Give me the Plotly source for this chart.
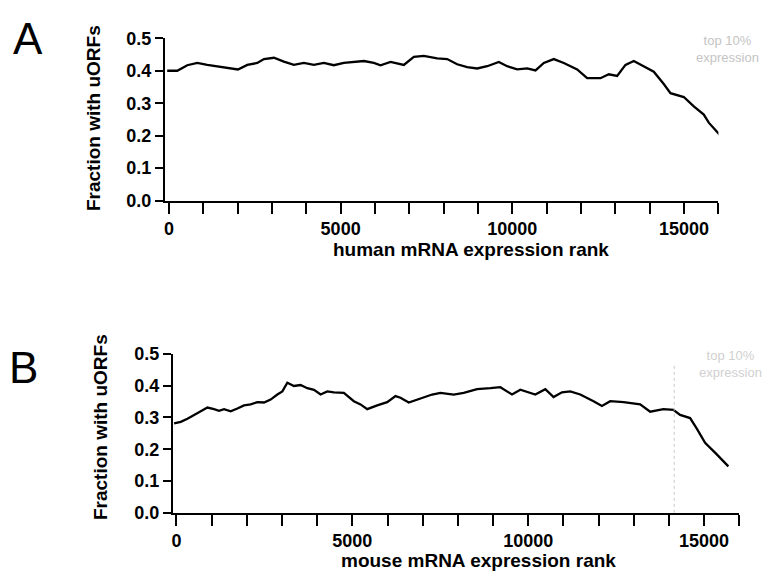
import plotly.graph_objects as go

# ---- data ----
human_rank = [-50, 243, 535, 826, 1117, 1409, 1700, 2010, 2283, 2574, 2767, 3058, 3348, 3639, 3930,
              4221, 4512, 4803, 5094, 5386, 5677, 5968, 6162, 6453, 6841, 7132, 7423, 7812, 8103,
              8394, 8685, 8976, 9268, 9607, 9850, 10141, 10432, 10675, 10917, 11208, 11499, 11888,
              12179, 12567, 12809, 13052, 13295, 13537, 13828, 14119, 14410, 14605, 14993, 15284,
              15575, 15720, 16060]
human_frac = [0.400, 0.400, 0.417, 0.424, 0.418, 0.414, 0.409, 0.404, 0.418, 0.424, 0.436, 0.440,
              0.428, 0.418, 0.424, 0.418, 0.424, 0.417, 0.424, 0.428, 0.430, 0.424, 0.417, 0.427,
              0.418, 0.443, 0.446, 0.438, 0.436, 0.420, 0.411, 0.407, 0.414, 0.427, 0.414, 0.404,
              0.407, 0.401, 0.424, 0.436, 0.424, 0.404, 0.377, 0.377, 0.389, 0.384, 0.418, 0.430,
              0.414, 0.397, 0.359, 0.331, 0.319, 0.290, 0.265, 0.240, 0.200]

mouse_rank = [-68, 122, 312, 500, 690, 880, 1068, 1210, 1352, 1542, 1732, 1920, 2110, 2300, 2487,
              2677, 2868, 3010, 3152, 3339, 3529, 3720, 3910, 4097, 4287, 4475, 4759, 5043, 5233,
              5423, 5707, 5991, 6227, 6369, 6604, 6888, 7268, 7504, 7882, 8166, 8546, 8924, 9208,
              9540, 9776, 10202, 10486, 10721, 10960, 11195, 11480, 11857, 12096, 12331, 12711,
              13183, 13467, 13844, 14128, 14319, 14603, 14793, 15029, 15361, 15690]
mouse_frac = [0.281, 0.286, 0.296, 0.308, 0.321, 0.331, 0.326, 0.321, 0.326, 0.319, 0.328, 0.338,
              0.341, 0.348, 0.347, 0.356, 0.372, 0.382, 0.409, 0.399, 0.402, 0.392, 0.387, 0.372,
              0.382, 0.379, 0.377, 0.351, 0.341, 0.326, 0.338, 0.348, 0.367, 0.362, 0.347, 0.358,
              0.372, 0.377, 0.372, 0.377, 0.389, 0.392, 0.395, 0.372, 0.387, 0.372, 0.389, 0.364,
              0.379, 0.382, 0.372, 0.351, 0.336, 0.351, 0.348, 0.341, 0.318, 0.326, 0.324, 0.308,
              0.298, 0.265, 0.220, 0.184, 0.146]

x_tickvals = list(range(0, 16001, 1000))
x_ticktext = [str(v) if v % 5000 == 0 else "" for v in x_tickvals]
y_tickvals = [0.0, 0.1, 0.2, 0.3, 0.4, 0.5]
y_ticktext = ["0.0", "0.1", "0.2", "0.3", "0.4", "0.5"]
mouse_top10_cut = 14150

W, H = 779, 584
FONT = "Liberation Sans"

fig = go.Figure()
fig.add_trace(go.Scatter(x=human_rank, y=human_frac, mode="lines",
                         line=dict(color="black", width=2.3), xaxis="x", yaxis="y",
                         showlegend=False))
fig.add_trace(go.Scatter(x=mouse_rank, y=mouse_frac, mode="lines",
                         line=dict(color="black", width=2.3), xaxis="x2", yaxis="y2",
                         showlegend=False))

def px_x(p):
    return p / W

def px_y(p):
    return 1 - p / H

common_x = dict(showline=True, linecolor="black", linewidth=2, ticks="outside", ticklen=11,
                tickwidth=2, tickcolor="black", showgrid=False, zeroline=False,
                tickvals=x_tickvals, ticktext=x_ticktext,
                tickfont=dict(family=FONT, size=18, color="black", weight="bold"))
common_y = dict(showline=True, linecolor="black", linewidth=2, ticks="outside", ticklen=8,
                tickwidth=2, tickcolor="black", showgrid=False, zeroline=False,
                tickvals=y_tickvals, ticktext=y_ticktext, range=[0, 0.5],
                tickfont=dict(family=FONT, size=18, color="black", weight="bold"))

fig.update_layout(
    width=W, height=H, margin=dict(l=0, r=0, t=0, b=0),
    paper_bgcolor="white", plot_bgcolor="white",
    xaxis=dict(domain=[px_x(164), px_x(718.3)], range=[-120, 16000], anchor="y", **common_x),
    yaxis=dict(domain=[px_y(197.3), px_y(29.3)], anchor="x", **common_y),
    xaxis2=dict(domain=[px_x(172), px_x(739.2)], range=[-105, 16000], anchor="y2", **common_x),
    yaxis2=dict(domain=[px_y(520.7), px_y(356)], anchor="x2", **common_y),
)

fig.add_shape(type="line", xref="x2", yref="y2", x0=mouse_top10_cut, x1=mouse_top10_cut,
              y0=0.0, y1=0.467, line=dict(color="#c8c8c8", width=1, dash="dot"))

ann = []
def label(text, cx, cy, size, bold=False, angle=0, color="black"):
    ann.append(dict(text=text, x=px_x(cx), y=px_y(cy), xref="paper", yref="paper",
                    showarrow=False, textangle=angle, xanchor="center", yanchor="middle",
                    font=dict(family=FONT, size=size, color=color,
                              weight="bold" if bold else "normal")))

label("A", 27, 30, 44)
label("B", 23, 370, 44)
label("Fraction with uORFs", 92, 112, 19, bold=True, angle=-90)
label("Fraction with uORFs", 99, 432, 19, bold=True, angle=-90)
label("human mRNA expression rank", 471, 248, 19, bold=True)
label("mouse mRNA expression rank", 478, 570, 19, bold=True)
label("top 10%<br>expression", 727, 40, 13, color="#c4c4c4")
label("top 10%<br>expression", 730, 367, 13, color="#d0d0d0")
fig.update_layout(annotations=ann)

fig.write_html("out.html")
